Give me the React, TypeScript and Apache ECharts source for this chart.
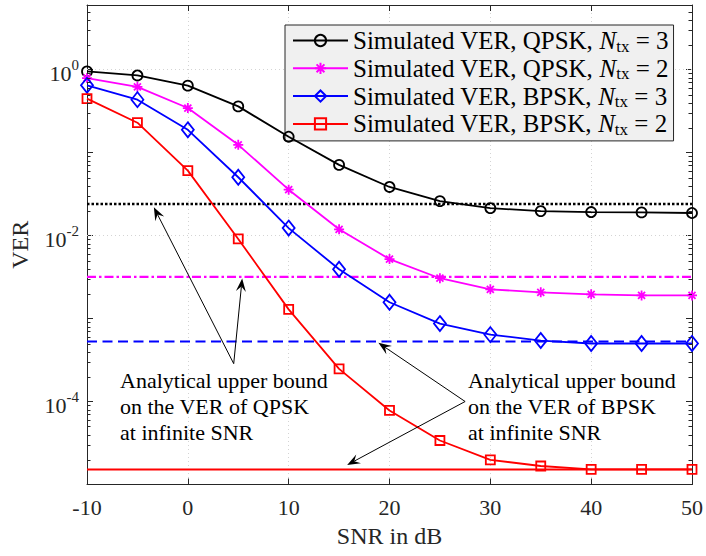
import React, { useEffect, useRef } from "react";
import * as echarts from "echarts";

const FONT = '"Liberation Serif", "Times New Roman", serif';
const AXIS_COLOR = "#262626";

// SNR in dB
const snr = [-10, -5, 0, 5, 10, 15, 20, 25, 30, 35, 40, 45, 50];
const xTicks = [-10, 0, 10, 20, 30, 40, 50];

// Simulated VER
const verQpsk3 = [0.95, 0.85, 0.64, 0.36, 0.155, 0.071, 0.0385, 0.026, 0.0214, 0.0197, 0.0192, 0.019, 0.0187];
const verQpsk2 = [0.79, 0.62, 0.344, 0.124, 0.0357, 0.0119, 0.0052, 0.00306, 0.00225, 0.00207, 0.00196, 0.0019, 0.0019];
const verBpsk3 = [0.646, 0.434, 0.188, 0.0504, 0.0123, 0.00392, 0.00157, 0.00087, 0.00064, 0.000543, 0.0005, 0.0005, 0.0005];
const verBpsk2 = [0.446, 0.229, 0.0606, 0.0091, 0.00129, 0.000247, 0.000078, 0.0000339, 0.0000198, 0.0000167, 0.0000152, 0.0000152, 0.0000152];

// Analytical upper bounds at infinite SNR
const boundQpsk3 = 0.024;
const boundQpsk2 = 0.00317;
const boundBpsk3 = 0.00053;
const boundBpsk2 = 0.0000152;

const seriesNames = [
  "Simulated VER, QPSK, N_tx = 3",
  "Simulated VER, QPSK, N_tx = 2",
  "Simulated VER, BPSK, N_tx = 3",
  "Simulated VER, BPSK, N_tx = 2",
];

// labelled decades (with grid lines)
const yGridValues = [1, 0.01, 0.0001];

// annotation arrows: [tail, tip] in data coordinates (SNR, VER)
const qpskArrowTail = [4.55, 2.86e-4];
const qpskArrowTips = [
  [-3.37, 0.0219],
  [5.39, 0.00303],
];
const bpskArrowTail = [27.5, 1.0e-4];
const bpskArrowTips = [
  [18.9, 0.00051],
  [15.8, 1.72e-5],
];
const qpskText = "Analytical upper bound\non the VER of QPSK\nat infinite SNR";
const bpskText = "Analytical upper bound\non the VER of BPSK\nat infinite SNR";

// log minor ticks (2..9 times each decade)
const minorTickValues: number[] = [];
for (let e = -5; e <= 0; e++) {
  for (let k = 2; k <= 9; k++) {
    const v = k * Math.pow(10, e);
    if (v < 6) minorTickValues.push(v);
  }
}

const pair = (xs: number[], ys: number[]) => xs.map((x, i) => [x, ys[i]]);

const STAR = "path://M0,5L10,5M5,0L5,10M1.5,1.5L8.5,8.5M1.5,8.5L8.5,1.5";

function dataSeries(name: string, ys: number[], color: string, symbol: string, size: any) {
  return {
    type: "line",
    name,
    data: pair(snr, ys),
    xAxisIndex: 0,
    yAxisIndex: 0,
    symbol,
    symbolSize: size,
    showSymbol: true,
    lineStyle: { color, width: 1.8 },
    itemStyle: { color: "none", borderColor: color, borderWidth: 1.8 },
    z: 5,
    silent: true,
  };
}

function boundSeries(value: number, color: string, type: any, width: number, extra: any = {}) {
  return {
    type: "line",
    name: "bound" + value,
    data: [
      [snr[0], value],
      [snr[snr.length - 1], value],
    ],
    symbol: "none",
    lineStyle: { color, width, type, cap: "butt" },
    z: 4,
    silent: true,
    ...extra,
  };
}

const baseAxisLine = { show: true, onZero: false, lineStyle: { color: AXIS_COLOR, width: 1 } };

const option: any = {
  animation: false,
  backgroundColor: "#ffffff",
  grid: { left: 86, right: 13, top: 5, bottom: 71.5, containLabel: false },
  xAxis: [
    {
      type: "value",
      min: xTicks[0],
      max: xTicks[xTicks.length - 1],
      interval: 10,
      position: "bottom",
      name: "SNR in dB",
      nameLocation: "middle",
      nameGap: 39,
      nameTextStyle: { fontFamily: FONT, fontSize: 24, color: AXIS_COLOR },
      axisLine: baseAxisLine,
      axisTick: { show: true, inside: true, length: 6, lineStyle: { color: AXIS_COLOR } },
      axisLabel: { fontFamily: FONT, fontSize: 22, color: AXIS_COLOR, margin: 12 },
      splitLine: { show: true, lineStyle: { type: [1, 3], color: "#d4d4d4", width: 1 } },
    },
    {
      type: "value",
      min: xTicks[0],
      max: xTicks[xTicks.length - 1],
      interval: 10,
      position: "top",
      axisLine: baseAxisLine,
      axisTick: { show: true, inside: true, length: 6, lineStyle: { color: AXIS_COLOR } },
      axisLabel: { show: false },
      splitLine: { show: false },
    },
  ],
  yAxis: [
    {
      type: "log",
      logBase: 10,
      min: 1e-5,
      max: 6,
      position: "left",
      name: "VER",
      nameLocation: "middle",
      nameGap: 55,
      nameRotate: 90,
      nameTextStyle: { fontFamily: FONT, fontSize: 24, color: AXIS_COLOR },
      axisLine: baseAxisLine,
      axisTick: { show: true, inside: true, length: 6, lineStyle: { color: AXIS_COLOR } },
      axisLabel: {
        margin: 8,
        color: AXIS_COLOR,
        formatter: (v: number) => {
          const l = Math.log10(v);
          const e = Math.round(l);
          if (Math.abs(l - e) > 1e-6 || e % 2 !== 0) return "";
          return `{b|10}{sup|${e}}`;
        },
        rich: {
          b: { fontFamily: FONT, fontSize: 22, color: AXIS_COLOR, padding: [8, 0, 0, 0] },
          sup: { fontFamily: FONT, fontSize: 15, color: AXIS_COLOR, padding: [0, 0, 10, 0] },
        },
      },
      splitLine: { show: false },
    },
    {
      type: "log",
      logBase: 10,
      min: 1e-5,
      max: 6,
      position: "right",
      axisLine: baseAxisLine,
      axisTick: { show: true, inside: true, length: 6, lineStyle: { color: AXIS_COLOR } },
      axisLabel: { show: false },
      splitLine: { show: false },
    },
  ],
  legend: {
    data: seriesNames,
    orient: "vertical",
    left: 285,
    top: 25,
    itemWidth: 55,
    itemHeight: 14,
    itemGap: 0.3,
    padding: [2, 5, 3, 7],
    backgroundColor: "#f0f0f0",
    borderColor: AXIS_COLOR,
    borderWidth: 1,
    borderRadius: 0,
    selectedMode: false,
    textStyle: {
      fontFamily: FONT,
      fontSize: 25,
      color: "#000",
      lineHeight: 27,
      rich: {
        t: { fontFamily: FONT, fontSize: 25, color: "#000" },
        i: { fontFamily: FONT, fontSize: 25, fontStyle: "italic", color: "#000" },
        sub: { fontFamily: FONT, fontSize: 17, color: "#000", padding: [11, 0, 0, 0] },
      },
    },
    formatter: (name: string) => {
      const parts = name.split("N_tx");
      return `{t|${parts[0]}}{i|N}{sub|tx}{t|${parts[1]}}`;
    },
  },
  series: [
    boundSeries(boundQpsk3, "#000000", [2.5, 2], 2.5, {
      markLine: {
        silent: true,
        symbol: ["none", "none"],
        label: { show: false },
        z: 1,
        lineStyle: { type: [1, 3], color: "#d4d4d4", width: 1 },
        data: yGridValues.map((v) => ({ yAxis: v })),
      },
    }),
    boundSeries(boundQpsk2, "#ff00ff", [9, 3, 2.5, 3], 2.2),
    boundSeries(boundBpsk3, "#0000ff", [10, 5.5], 2),
    boundSeries(boundBpsk2, "#ff0000", "solid", 2),
    {
      type: "custom",
      name: "minorTicks",
      silent: true,
      clip: false,
      z: 6,
      data: minorTickValues.map((v) => [snr[0], v]),
      renderItem: (params: any, api: any) => {
        const p = api.coord([api.value(0), api.value(1)]);
        const cs = params.coordSys;
        const y = Math.round(p[1]) + 0.5;
        const st = { stroke: AXIS_COLOR, lineWidth: 1 };
        return {
          type: "group",
          children: [
            { type: "line", shape: { x1: cs.x, y1: y, x2: cs.x + 3.5, y2: y }, style: st },
            { type: "line", shape: { x1: cs.x + cs.width - 3.5, y1: y, x2: cs.x + cs.width, y2: y }, style: st },
          ],
        };
      },
    },
    dataSeries(seriesNames[0], verQpsk3, "#000000", "circle", 10),
    dataSeries(seriesNames[1], verQpsk2, "#ff00ff", STAR, 10),
    dataSeries(seriesNames[2], verBpsk3, "#0000ff", "diamond", [12, 15]),
    dataSeries(seriesNames[3], verBpsk2, "#ff0000", "rect", 9),
  ],
};

function arrowElements(tail: number[], tip: number[]) {
  const dx = tip[0] - tail[0];
  const dy = tip[1] - tail[1];
  const len = Math.sqrt(dx * dx + dy * dy);
  const ux = dx / len;
  const uy = dy / len;
  const nx = -uy;
  const ny = ux;
  const L = 13;
  const W = 10;
  const notch = L * 0.62;
  const bx = tip[0] - ux * L;
  const by = tip[1] - uy * L;
  return [
    {
      type: "line",
      silent: true,
      z: 20,
      shape: { x1: tail[0], y1: tail[1], x2: tip[0] - ux * notch, y2: tip[1] - uy * notch },
      style: { stroke: "#000", lineWidth: 1 },
    },
    {
      type: "polygon",
      silent: true,
      z: 20,
      shape: {
        points: [
          [tip[0], tip[1]],
          [bx + (nx * W) / 2, by + (ny * W) / 2],
          [tip[0] - ux * notch, tip[1] - uy * notch],
          [bx - (nx * W) / 2, by - (ny * W) / 2],
        ],
      },
      style: { fill: "#000" },
    },
  ];
}

export default function App() {
  const ref = useRef<HTMLDivElement>(null);
  useEffect(() => {
    if (!ref.current) return;
    const chart = echarts.init(ref.current, null, { renderer: "svg" });
    chart.setOption(option);
    const px = (p: number[]) => chart.convertToPixel({ xAxisIndex: 0, yAxisIndex: 0 }, p) as number[];
    const elements: any[] = [];
    const qt = px(qpskArrowTail);
    qpskArrowTips.forEach((t) => elements.push(...arrowElements(qt, px(t))));
    const bt = px(bpskArrowTail);
    bpskArrowTips.forEach((t) => elements.push(...arrowElements(bt, px(t))));
    const textStyle = { fontFamily: FONT, fontSize: 22, lineHeight: 26, fill: "#000", verticalAlign: "top", align: "left" };
    elements.push({ type: "text", x: 120, y: 367, z: 20, silent: true, style: { ...textStyle, text: qpskText } });
    elements.push({ type: "text", x: 468, y: 367, z: 20, silent: true, style: { ...textStyle, text: bpskText } });
    chart.setOption({ graphic: elements });
    return () => chart.dispose();
  }, []);
  return (
    <div
      ref={ref}
      style={{ position: "fixed", left: 0, top: 0, width: 706, height: 556, background: "#fff" }}
    />
  );
}
